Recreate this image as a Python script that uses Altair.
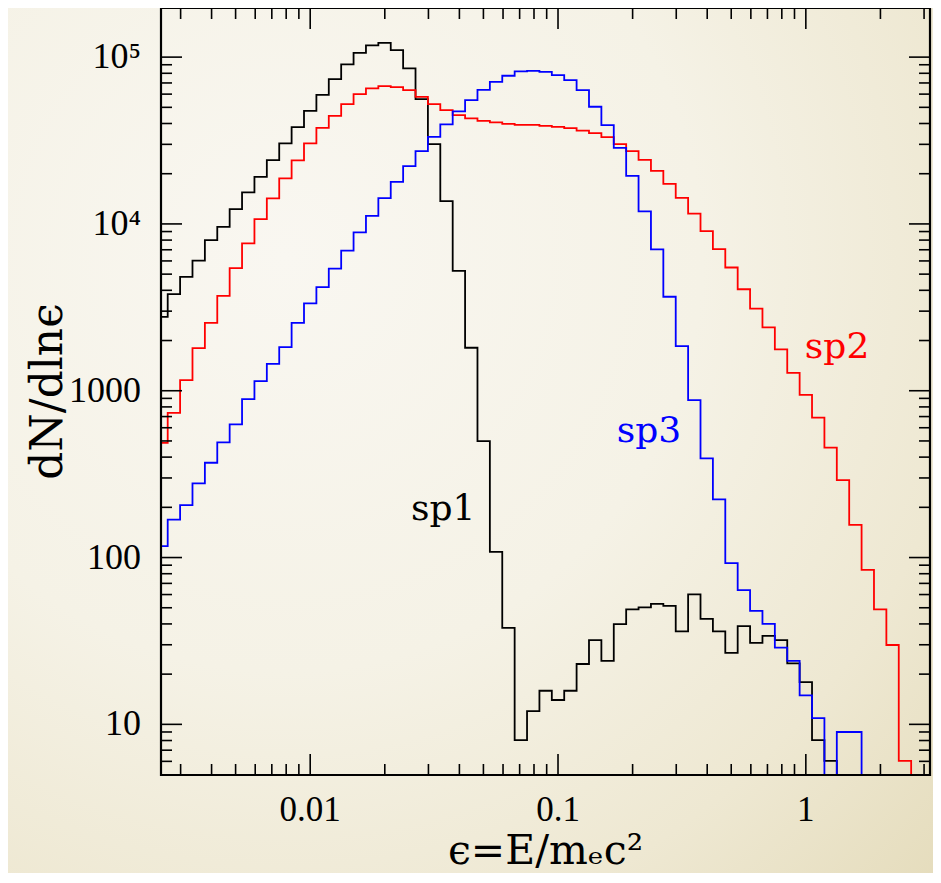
import altair as alt
import pandas as pd

# bin centres, log10(epsilon)
log_e = [-2.60, -2.55, -2.50, -2.45, -2.40, -2.35, -2.30, -2.25, -2.20, -2.15,
         -2.10, -2.05, -2.00, -1.95, -1.90, -1.85, -1.80, -1.75, -1.70, -1.65,
         -1.60, -1.55, -1.50, -1.45, -1.40, -1.35, -1.30, -1.25, -1.20, -1.15,
         -1.10, -1.05, -1.00, -0.95, -0.90, -0.85, -0.80, -0.75, -0.70, -0.65,
         -0.60, -0.55, -0.50, -0.45, -0.40, -0.35, -0.30, -0.25, -0.20, -0.15,
         -0.10, -0.05, 0.00, 0.05, 0.10, 0.15, 0.20, 0.25, 0.30, 0.35,
         0.40, 0.45, 0.50]

sp1 = [2770, 3790, 4820, 6030, 8000, 9610, 12270, 15450, 19150, 24130,
       30400, 38020, 47640, 59400, 73800, 90400, 106000, 117500, 121800, 110200,
       85600, 56000, 30100, 13700, 5230, 1810, 499, 108, 37.9, 8.04,
       12.0, 15.9, 14.0, 15.9, 23.0, 32.0, 24.0, 39.9, 48.9, 50.2,
       52.8, 51.3, 36.1, 60.1, 42.9, 36.1, 26.8, 38.8, 30.8, 33.9,
       32.0, 23.2, 17.9, 8.04, 6.04, 0, 0, 0, 0, 0,
       0, 0, 0]

sp2 = [487, 737, 1158, 1800, 2550, 3700, 5430, 7640, 10690, 14220,
       18740, 24030, 30400, 37700, 44500, 52300, 60000, 64900, 67000, 66100,
       63400, 57800, 52300, 48100, 44900, 42900, 41500, 40600, 39800, 39300,
       39300, 38700, 38200, 37500, 36300, 35000, 33100, 30100, 27330, 24220,
       20800, 17400, 14340, 11530, 9060, 7060, 5480, 4060, 3110, 2400,
       1770, 1280, 945, 690, 456, 291, 157, 84.4, 48.9, 29.9,
       6.04, 0, 0]

sp3 = [117, 169, 206, 278, 370, 490, 628, 891, 1142, 1450,
       1826, 2550, 3340, 4180, 5390, 6920, 8890, 11190, 14280, 17880,
       22210, 27330, 33270, 39490, 47260, 55200, 63700, 71100, 77300, 82100,
       82800, 81600, 78000, 72800, 63400, 50400, 39100, 28600, 19420, 11880,
       7030, 3660, 1850, 878, 393, 223, 92.6, 63.8, 47.9, 40.0,
       28.8, 24.0, 14.9, 10.9, 0, 9.0, 9.0, 0, 0, 0,
       0, 0, 0]

series_names = ["sp1", "sp2", "sp3"]
series_colors = ["#000000", "#ff0000", "#0000ff"]

# label annotations
label_text = ["sp1", "sp2", "sp3"]
label_x = [0.0344, 1.337, 0.233]
label_y = [167, 1567, 494]

# axis ticks and tick labels
x_major = [0.01, 0.1, 1]
x_major_text = ["0.01", "0.1", "1"]
x_minor = [0.003, 0.004, 0.005, 0.006, 0.007, 0.008, 0.009,
           0.02, 0.03, 0.04, 0.05, 0.06, 0.07, 0.08, 0.09,
           0.2, 0.3, 0.4, 0.5, 0.6, 0.7, 0.8, 0.9, 2, 3]
y_major = [10, 100, 1000, 10000, 100000]
y_major_text = ["10", "100", "1000", "10⁴", "10⁵"]
y_minor = [6, 7, 8, 9, 20, 30, 40, 50, 60, 70, 80, 90,
           200, 300, 400, 500, 600, 700, 800, 900,
           2000, 3000, 4000, 5000, 6000, 7000, 8000, 9000,
           20000, 30000, 40000, 50000, 60000, 70000, 80000, 90000]

x_title = "ϵ=E/mₑc²"
y_title = "dN/dlnϵ"

W, H = 769, 767
PAD = {"left": 153, "top": 0, "right": 3, "bottom": 98}
MAJ, MIN = 21, 11
FLOOR = 1.0  # zero-count bins drawn below the visible range

rows = []
for name, vals in zip(series_names, [sp1, sp2, sp3]):
    for le, v in zip(log_e, vals):
        rows.append({"eps": 10 ** le, "n": v if v > 0 else FLOOR, "series": name})
df = pd.DataFrame(rows)

xs = alt.Scale(type="log", domain=[0.0025, 3.17], nice=False)
ys = alt.Scale(type="log", domain=[4.97, 1.97e5], nice=False)
cs = alt.Scale(domain=series_names, range=series_colors)

serif = "DejaVu Serif"
tickfont = "Liberation Serif"
one = pd.DataFrame({"a": [0]})

bg = alt.Chart(one).mark_rect(
    fill={"gradient": "radial",
          "stops": [{"offset": 0, "color": "#f9f7f1"},
                    {"offset": 0.45, "color": "#f5f2e6"},
                    {"offset": 0.75, "color": "#eee8d2"},
                    {"offset": 1, "color": "#e4dbba"}],
          "x1": 0.3, "y1": 0.3, "r1": 0, "x2": 0.3, "y2": 0.3, "r2": 1.0},
    stroke="transparent"
).encode(x=alt.value(-PAD["left"]), x2=alt.value(W + PAD["right"]),
         y=alt.value(0), y2=alt.value(H + PAD["bottom"]))

lines = alt.Chart(df).mark_line(interpolate="step", clip=True, strokeWidth=1.8).encode(
    x=alt.X("eps:Q", scale=xs, axis=None),
    y=alt.Y("n:Q", scale=ys, axis=None),
    color=alt.Color("series:N", scale=cs, legend=None),
    detail="series:N",
)


def xticks(vals, length, top):
    y0, y1 = (0, length) if top else (H, H - length)
    return alt.Chart(pd.DataFrame({"t": vals})).mark_rule(color="black", strokeWidth=1.6).encode(
        x=alt.X("t:Q", scale=xs, axis=None), y=alt.value(y0), y2=alt.value(y1))


def yticks(vals, length, right):
    x0, x1 = (W, W - length) if right else (0, length)
    return alt.Chart(pd.DataFrame({"t": vals})).mark_rule(color="black", strokeWidth=1.6).encode(
        y=alt.Y("t:Q", scale=ys, axis=None), x=alt.value(x0), x2=alt.value(x1))


ticks = [xticks(x_major, MAJ, False), xticks(x_major, MAJ, True),
         xticks(x_minor, MIN, False), xticks(x_minor, MIN, True),
         yticks(y_major, MAJ, False), yticks(y_major, MAJ, True),
         yticks(y_minor, MIN, False), yticks(y_minor, MIN, True)]

frame = alt.Chart(one).mark_rect(
    filled=False, stroke="black", strokeWidth=2.2
).encode(x=alt.value(0), x2=alt.value(W), y=alt.value(0), y2=alt.value(H))

xlab = alt.Chart(pd.DataFrame({"v": x_major, "s": x_major_text})).mark_text(
    font=tickfont, fontSize=35, align="center", baseline="top", color="black"
).encode(x=alt.X("v:Q", scale=xs, axis=None), y=alt.value(H + 18), text="s:N")

ylab = alt.Chart(pd.DataFrame({"v": y_major, "s": y_major_text})).mark_text(
    font=tickfont, fontSize=36, align="right", baseline="middle", color="black"
).encode(y=alt.Y("v:Q", scale=ys, axis=None), x=alt.value(-20), text="s:N")

xtitle = alt.Chart(pd.DataFrame({"s": [x_title]})).mark_text(
    font=serif, fontSize=41, align="center", baseline="alphabetic", color="black"
).encode(x=alt.value(W / 2), y=alt.value(H + 89), text="s:N")

ytitle = alt.Chart(pd.DataFrame({"s": [y_title]})).mark_text(
    font=serif, fontSize=44, align="center", baseline="alphabetic", color="black", angle=270
).encode(x=alt.value(-99), y=alt.value(H / 2), text="s:N")

labels = alt.Chart(pd.DataFrame({"x": label_x, "y": label_y, "text": label_text,
                                 "series": label_text})).mark_text(
    font=serif, fontSize=36, align="center", baseline="alphabetic"
).encode(
    x=alt.X("x:Q", scale=xs, axis=None),
    y=alt.Y("y:Q", scale=ys, axis=None),
    text="text:N",
    color=alt.Color("series:N", scale=cs, legend=None),
)

chart = alt.layer(bg, lines, *ticks, frame, xlab, ylab, xtitle, ytitle, labels).properties(
    width=W, height=H,
    autosize=alt.AutoSizeParams(type="none"),
    padding=PAD,
).configure(background="#f4f0e3").configure_view(stroke="transparent")

chart.save("out.html", embed_options={"renderer": "svg", "actions": False})
